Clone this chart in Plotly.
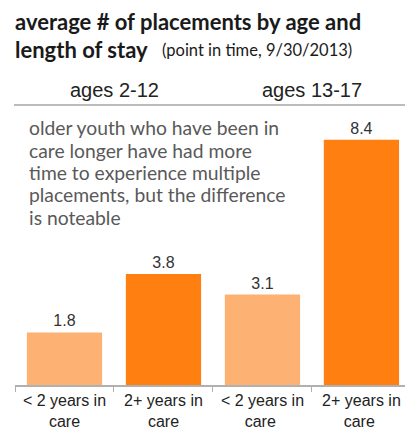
import plotly.graph_objects as go

# Chart data
categories = ["< 2 years in<br>care", "2+ years in<br>care", "< 2 years in<br>care ", "2+ years in<br>care "]
values = [1.8, 3.8, 3.1, 8.4]
value_labels = ["1.8", "3.8", "3.1", "8.4"]
group_labels = ["ages 2-12", "ages 13-17"]
note_lines = [
    "older youth who have been in",
    "care longer have had more",
    "time to experience multiple",
    "placements, but the difference",
    "is noteable",
]

LIGHT = "#FDB172"
DARK = "#FF7F11"
bar_colors = [LIGHT, DARK, LIGHT, DARK]

W, H = 405, 430
M_L, M_R, M_T, M_B = 15, 0, 110, 43
PLOT_W = W - M_L - M_R
PLOT_H = H - M_T - M_B


def px_x(x):
    return (x - M_L) / PLOT_W


def px_y(y):
    return (H - M_B - y) / PLOT_H


fig = go.Figure(
    go.Bar(
        x=categories,
        y=values,
        marker=dict(color=bar_colors, line=dict(width=0)),
        text=value_labels,
        textposition="outside",
        textfont=dict(family="Arial", size=16, color="#333333"),
        cliponaxis=False,
        hoverinfo="skip",
    )
)

TITLE_FONT = dict(family="Lato", size=22, color="#1a1a1a")
annotations = [
    dict(
        text="<b>average # of placements by age and</b>",
        x=px_x(13), y=px_y(21), xanchor="left", yanchor="middle",
        font=TITLE_FONT,
    ),
    dict(
        text="<b>length of stay</b>",
        x=px_x(13), y=px_y(49), xanchor="left", yanchor="middle",
        font=TITLE_FONT,
    ),
    dict(
        text="(point in time, 9/30/2013)",
        x=px_x(160), y=px_y(50), xanchor="left", yanchor="middle",
        font=dict(family="Lato", size=16.5, color="#1a1a1a"),
    ),
    dict(
        text=group_labels[0],
        x=px_x(114), y=px_y(90), xanchor="center", yanchor="middle",
        font=dict(family="Arial", size=20, color="#222222"),
    ),
    dict(
        text=group_labels[1],
        x=px_x(312), y=px_y(90), xanchor="center", yanchor="middle",
        font=dict(family="Arial", size=20, color="#222222"),
    ),
]
for i, line in enumerate(note_lines):
    annotations.append(
        dict(
            text=line,
            x=px_x(27), y=px_y(128 + 22.5 * i), xanchor="left", yanchor="middle",
            font=dict(family="Lato", size=19.3, color="#595959"),
        )
    )
for a in annotations:
    a.update(xref="paper", yref="paper", showarrow=False)

fig.update_layout(
    width=W,
    height=H,
    margin=dict(l=M_L, r=M_R, t=M_T, b=M_B, pad=0),
    paper_bgcolor="white",
    plot_bgcolor="white",
    showlegend=False,
    bargap=0.24,
    annotations=annotations,
    shapes=[
        dict(
            type="line", xref="paper", yref="paper",
            x0=px_x(14), x1=px_x(405), y0=px_y(105), y1=px_y(105),
            line=dict(color="#a6a6a6", width=1.5),
        )
    ],
    xaxis=dict(
        type="category",
        range=[-0.5, 3.44],
        tickson="boundaries",
        ticks="outside",
        ticklen=5,
        tickcolor="#b0b0b0",
        showline=True,
        linecolor="#b0b0b0",
        linewidth=1.5,
        showgrid=False,
        tickfont=dict(family="Arial", size=16, color="#222222"),
        fixedrange=True,
    ),
    yaxis=dict(
        range=[0, PLOT_H / 29.4],
        visible=False,
        showgrid=False,
        zeroline=False,
        fixedrange=True,
    ),
)

fig.write_html("out.html", config={"displayModeBar": False})
